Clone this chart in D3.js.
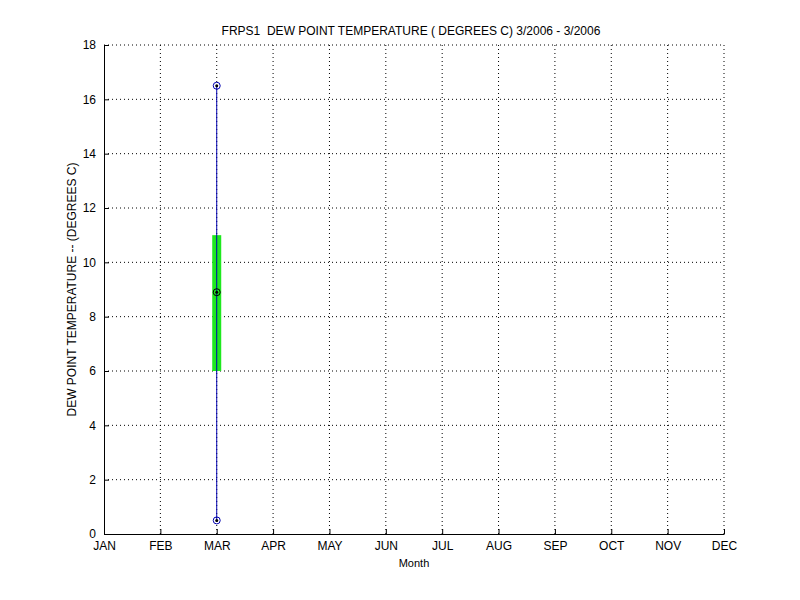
<!DOCTYPE html>
<html>
<head>
<meta charset="utf-8">
<script src="https://cdn.jsdelivr.net/npm/d3@7"></script>
<style>
  body { margin: 0; background: #fff; }
  text { font-family: "Liberation Sans", Arial, sans-serif; white-space: pre; }
</style>
</head>
<body>
<div id="chart"></div>
<script>
// month categories on the x axis
const months = ["JAN", "FEB", "MAR", "APR", "MAY", "JUN", "JUL", "AUG", "SEP", "OCT", "NOV", "DEC"];
const yTicks = [0, 2, 4, 6, 8, 10, 12, 14, 16, 18];

// box summary for each month with data
const boxMonths = ["MAR"];
const boxMin = [0.5];
const boxQ1 = [6.0];
const boxMedian = [8.9];
const boxQ3 = [11.0];
const boxMax = [16.5];

const stats = boxMonths.map((m, i) => ({
  month: m, min: boxMin[i], q1: boxQ1[i], median: boxMedian[i], q3: boxQ3[i], max: boxMax[i]
}));

const width = 800, height = 600;
const margin = { top: 45, right: 76, bottom: 66, left: 104 };
const w = width - margin.left - margin.right;
const h = height - margin.top - margin.bottom;

const svg = d3.select("#chart").append("svg")
  .attr("width", width)
  .attr("height", height);

const g = svg.append("g")
  .attr("transform", `translate(${margin.left},${margin.top})`);

const x = d3.scalePoint().domain(months).range([0, w]);
const y = d3.scaleLinear().domain([0, 18]).range([h, 0]);

// dotted grid
g.append("g").selectAll("line.vg")
  .data(months.slice(1))
  .join("line")
  .attr("x1", d => x(d)).attr("x2", d => x(d))
  .attr("y1", 0).attr("y2", h)
  .attr("stroke", "#000").attr("stroke-width", 1)
  .attr("stroke-dasharray", "1,3");

g.append("g").selectAll("line.hg")
  .data(yTicks.slice(1))
  .join("line")
  .attr("x1", 0).attr("x2", w)
  .attr("y1", d => y(d)).attr("y2", d => y(d))
  .attr("stroke", "#000").attr("stroke-width", 1)
  .attr("stroke-dasharray", "1,3");

// axes with inward ticks
const xAxis = d3.axisBottom(x).tickSizeInner(-5).tickSizeOuter(0).tickPadding(6);
const yAxis = d3.axisLeft(y).tickValues(yTicks).tickSizeInner(-5).tickSizeOuter(0).tickPadding(8);

const gx = g.append("g").attr("transform", `translate(0,${h})`).call(xAxis);
const gy = g.append("g").call(yAxis);
[gx, gy].forEach(a => {
  a.select(".domain").attr("stroke", "#000");
  a.selectAll("line").attr("stroke", "#000");
  a.selectAll("text").attr("fill", "#000").style("font-size", "12px");
});
gx.selectAll("text").attr("y", 7).attr("dy", "0.71em");

// boxes
const bw = 9;
const box = g.append("g").selectAll("g.box")
  .data(stats)
  .join("g")
  .attr("transform", d => `translate(${x(d.month)},0)`);

box.append("rect")
  .attr("x", -bw / 2)
  .attr("width", bw)
  .attr("y", d => y(d.q3))
  .attr("height", d => y(d.q1) - y(d.q3))
  .attr("fill", "#1ee81e");

box.append("line")
  .attr("x1", 0).attr("x2", 0)
  .attr("y1", d => y(d.max)).attr("y2", d => y(d.min))
  .attr("stroke", "#0000b0").attr("stroke-width", 1);

const markers = box.selectAll("g.mk")
  .data(d => [{ v: d.max, c: "#0000b0" }, { v: d.median, c: "#000" }, { v: d.min, c: "#0000b0" }])
  .join("g")
  .attr("transform", d => `translate(0,${y(d.v)})`);
markers.append("circle").attr("r", 3.5).attr("fill", "none").attr("stroke", d => d.c).attr("stroke-width", 1);
markers.append("circle").attr("r", 1.5).attr("fill", "#000");

// title and labels
svg.append("text")
  .attr("x", 411).attr("y", 35)
  .attr("text-anchor", "middle")
  .style("font-size", "12px")
  .text("FRPS1  DEW POINT TEMPERATURE ( DEGREES C) 3/2006 - 3/2006");

svg.append("text")
  .attr("x", margin.left + w / 2).attr("y", 567)
  .attr("text-anchor", "middle")
  .style("font-size", "11px")
  .text("Month");

svg.append("text")
  .attr("transform", `translate(76,${margin.top + h / 2}) rotate(-90)`)
  .attr("text-anchor", "middle")
  .style("font-size", "12px")
  .text("DEW POINT TEMPERATURE -- (DEGREES C)");
</script>
</body>
</html>
